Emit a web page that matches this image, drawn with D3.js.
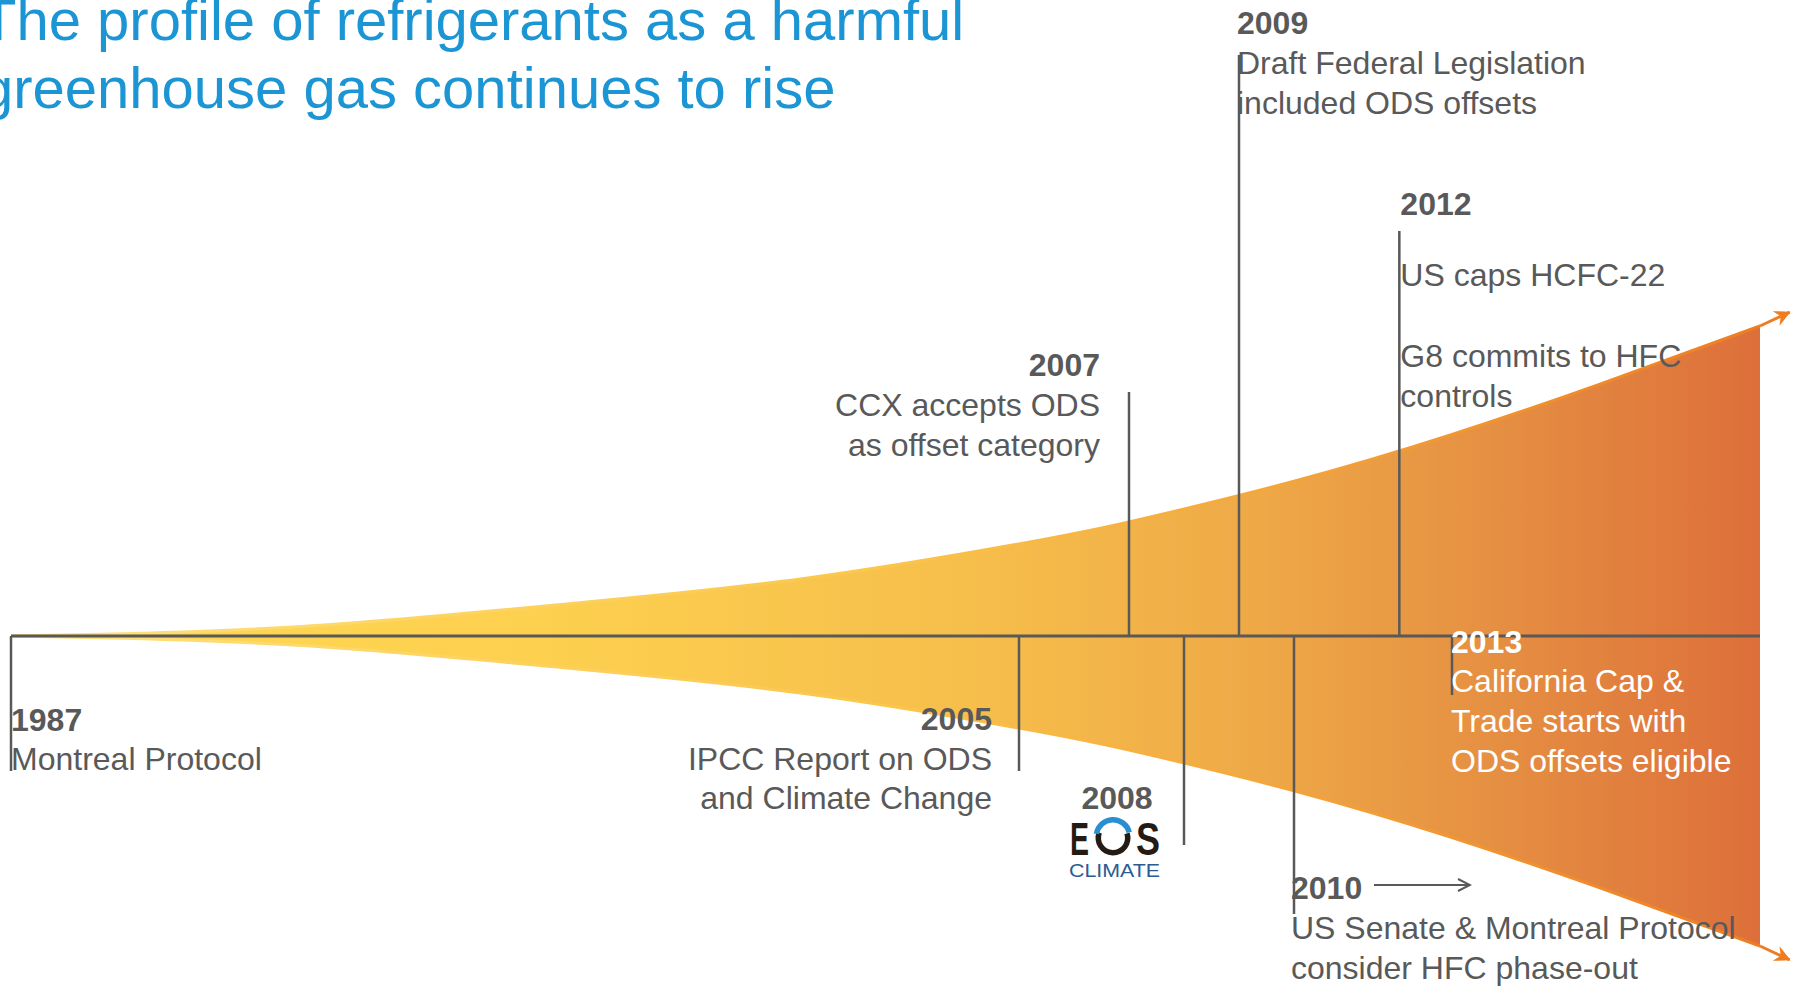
<!DOCTYPE html>
<html><head><meta charset="utf-8">
<script src="https://cdn.jsdelivr.net/npm/d3@7"></script>
<style>html,body{margin:0;padding:0;background:#fff;overflow:hidden}</style>
</head><body><svg id="chart" width="1796" height="986"></svg>
<script>
// ---------- data ----------
const titleLines = ["The profile of refrigerants as a harmful", "greenhouse gas continues to rise"];
const eventYears = [1987, 2005, 2007, 2008, 2009, 2010, 2012, 2013];
const eventTitles = ["1987", "2005", "2007", "2008", "2009", "2010", "2012", "2013"];
const eventTexts = [
  ["Montreal Protocol"],
  ["IPCC Report on ODS", "and Climate Change"],
  ["CCX accepts ODS", "as offset category"],
  [],
  ["Draft Federal Legislation", "included ODS offsets"],
  ["US Senate & Montreal Protocol", "consider HFC phase-out"],
  ["US caps HCFC-22", "", "G8 commits to HFC", "controls"],
  ["California Cap &", "Trade starts with", "ODS offsets eligible"]
];
// profile of refrigerants (relative index, read from the funnel's half-width)
const profileYears  = [1987, 1988.6, 1992.2, 1996.6, 2001.1, 2005, 2007, 2010, 2013, 2015.7, 2018.7];
const profileValues = [0, 0.6, 3.1, 9.8, 18.4, 29.7, 36.8, 49.9, 65, 81, 100];
const arrowYear = 2019.25, arrowValue = 104.5;
const logoLetters = ["E", "O", "S"], logoSub = "CLIMATE";

// ---------- layout ----------
const W = 1796, H = 986, axisY = 636;
const svg = d3.select("#chart");
const x = d3.scaleLinear().domain([1987, 2005, 2010, 2013, 2018.7]).range([11, 1019, 1294, 1452, 1760]);
const hw = d3.scaleLinear().domain([0, 100]).range([0, 310]);
const gray = "#595959";
const font = "'Liberation Sans', Arial, sans-serif";

const defs = svg.append("defs");
const gFill = defs.append("linearGradient").attr("id", "gFill")
  .attr("gradientUnits", "userSpaceOnUse").attr("x1", x(1987)).attr("x2", x(2018.7)).attr("y1", 0).attr("y2", 0);
[[0, "#ffd851"], [0.3, "#fdd04f"], [0.55, "#f6be4b"], [0.7, "#efab47"], [0.85, "#e58f42"], [1, "#dd6f3a"]]
  .forEach(([o, c]) => gFill.append("stop").attr("offset", o).attr("stop-color", c));
const gEdge = defs.append("linearGradient").attr("id", "gEdge")
  .attr("gradientUnits", "userSpaceOnUse").attr("x1", x(1987)).attr("x2", x(2018.7)).attr("y1", 0).attr("y2", 0);
[[0, "#ffe27c"], [0.5, "#fbc64b"], [0.8, "#f29a35"], [1, "#ee7d22"]]
  .forEach(([o, c]) => gEdge.append("stop").attr("offset", o).attr("stop-color", c));

defs.append("marker").attr("id", "arrOrange").attr("markerUnits", "userSpaceOnUse")
  .attr("viewBox", "-16 -9 18 18").attr("refX", 0).attr("refY", 0)
  .attr("markerWidth", 18).attr("markerHeight", 18).attr("orient", "auto")
  .append("path").attr("d", "M1,0 L-15,-8 L-10,0 L-15,8 Z").attr("fill", "#ee7d22");
defs.append("marker").attr("id", "arrGray").attr("markerUnits", "userSpaceOnUse")
  .attr("viewBox", "-14 -8 16 16").attr("refX", 0).attr("refY", 0)
  .attr("markerWidth", 16).attr("markerHeight", 16).attr("orient", "auto")
  .append("path").attr("d", "M-12,-6 L0,0 L-12,6").attr("fill", "none").attr("stroke", gray).attr("stroke-width", 2);

// ---------- funnel ----------
const prof = profileYears.map((y, i) => ({ year: y, v: profileValues[i] }));
const curve = d3.curveNatural;
const area = d3.area().x(d => x(d.year)).y0(d => axisY + hw(d.v)).y1(d => axisY - hw(d.v)).curve(curve);
svg.append("path").datum(prof).attr("d", area).attr("fill", "url(#gFill)");
const upper = d3.line().x(d => x(d.year)).y(d => axisY - hw(d.v)).curve(curve);
const lower = d3.line().x(d => x(d.year)).y(d => axisY + hw(d.v)).curve(curve);
[upper, lower].forEach(gen => {
  svg.append("path").datum(prof).attr("d", gen).attr("fill", "none")
    .attr("stroke", "url(#gEdge)").attr("stroke-width", 3);
});
const last = prof[prof.length - 1];
[-1, 1].forEach(s => {
  svg.append("line")
    .attr("x1", x(last.year)).attr("y1", axisY + s * hw(last.v))
    .attr("x2", x(arrowYear)).attr("y2", axisY + s * hw(arrowValue))
    .attr("stroke", "#ee7d22").attr("stroke-width", 3).attr("marker-end", "url(#arrOrange)");
});

// ---------- axis ----------
svg.append("line").attr("x1", x(1987)).attr("x2", x(2018.7)).attr("y1", axisY).attr("y2", axisY)
  .attr("stroke", gray).attr("stroke-width", 3);

// ---------- events ----------
const layout = [
  { anchor: "start",  dx: 0,   titleY: 731, textY: [770],               line: [636, 771] },
  { anchor: "end",    dx: -27, titleY: 730, textY: [770, 809],          line: [636, 771] },
  { anchor: "end",    dx: -29, titleY: 376, textY: [416, 456],          line: [392, 636] },
  { anchor: "middle", dx: -67, titleY: 809, textY: [],                  line: [636, 845] },
  { anchor: "start",  dx: -2,  titleY: 34,  textY: [74, 114],           line: [55, 636] },
  { anchor: "start",  dx: -3,  titleY: 899, textY: [939, 979],          line: [636, 914] },
  { anchor: "start",  dx: 1,   titleY: 215, textY: [286, 326, 367, 407], line: [231, 636] },
  { anchor: "start",  dx: -1,  titleY: 653, textY: [692, 732, 772],     line: [636, 695], color: "#ffffff" }
];

const ev = svg.append("g");
eventYears.forEach((yr, i) => {
  const L = layout[i], ex = x(yr);
  ev.append("line").attr("x1", ex).attr("x2", ex).attr("y1", L.line[0]).attr("y2", L.line[1])
    .attr("stroke", gray).attr("stroke-width", 2.5);
});
eventYears.forEach((yr, i) => {
  const L = layout[i], ex = x(yr), col = L.color || gray;
  ev.append("text").attr("x", ex + L.dx).attr("y", L.titleY).attr("text-anchor", L.anchor)
    .attr("font-family", font).attr("font-weight", "bold").attr("font-size", 32).attr("fill", col)
    .text(eventTitles[i]);
  eventTexts[i].forEach((t, j) => {
    if (!t) return;
    ev.append("text").attr("x", ex + L.dx).attr("y", L.textY[j]).attr("text-anchor", L.anchor)
      .attr("font-family", font).attr("font-size", 32).attr("fill", col).text(t);
  });
});

// arrow next to 2010
const ex2010 = x(2010);
svg.append("line").attr("x1", ex2010 + 80).attr("x2", ex2010 + 176).attr("y1", 885).attr("y2", 885)
  .attr("stroke", gray).attr("stroke-width", 2).attr("marker-end", "url(#arrGray)");

// EOS CLIMATE logo under 2008
const lx = x(2008) - 67;
const logo = svg.append("g");
logo.append("text").attr("x", lx - 47).attr("y", 855).attr("font-family", font).attr("font-size", 46)
  .attr("font-weight", "bold")
  .attr("fill", "#241c14").attr("textLength", 19).attr("lengthAdjust", "spacingAndGlyphs").text(logoLetters[0]);
const oc = [lx - 4, 838];
const arc = d3.arc();
logo.append("path").attr("transform", `translate(${oc[0]},${oc[1]})`)
  .attr("d", arc({ innerRadius: 12, outerRadius: 17.5, startAngle: Math.PI * 0.4, endAngle: Math.PI * 1.62 }))
  .attr("fill", "#241c14");
logo.append("path").attr("transform", `translate(${oc[0]},${oc[1] - 1.5})`)
  .attr("d", arc({ innerRadius: 14, outerRadius: 19.5, startAngle: -Math.PI * 0.45, endAngle: Math.PI * 0.42 }))
  .attr("fill", "#2a8fd0");
logo.append("text").attr("x", lx + 19).attr("y", 855).attr("font-family", font).attr("font-size", 46)
  .attr("font-weight", "bold")
  .attr("fill", "#241c14").attr("textLength", 24).attr("lengthAdjust", "spacingAndGlyphs").text(logoLetters[2]);
logo.append("text").attr("x", lx - 48).attr("y", 877).attr("font-family", font).attr("font-size", 19)
  .attr("fill", "#2b5b93").attr("textLength", 91).attr("lengthAdjust", "spacingAndGlyphs").text(logoSub);

// ---------- title ----------
titleLines.forEach((t, i) => {
  svg.append("text").attr("x", -19).attr("y", i === 0 ? 40 : 108)
    .attr("font-family", font).attr("font-size", 58).attr("fill", "#1b95d3").text(t);
});
</script>
</body></html>
